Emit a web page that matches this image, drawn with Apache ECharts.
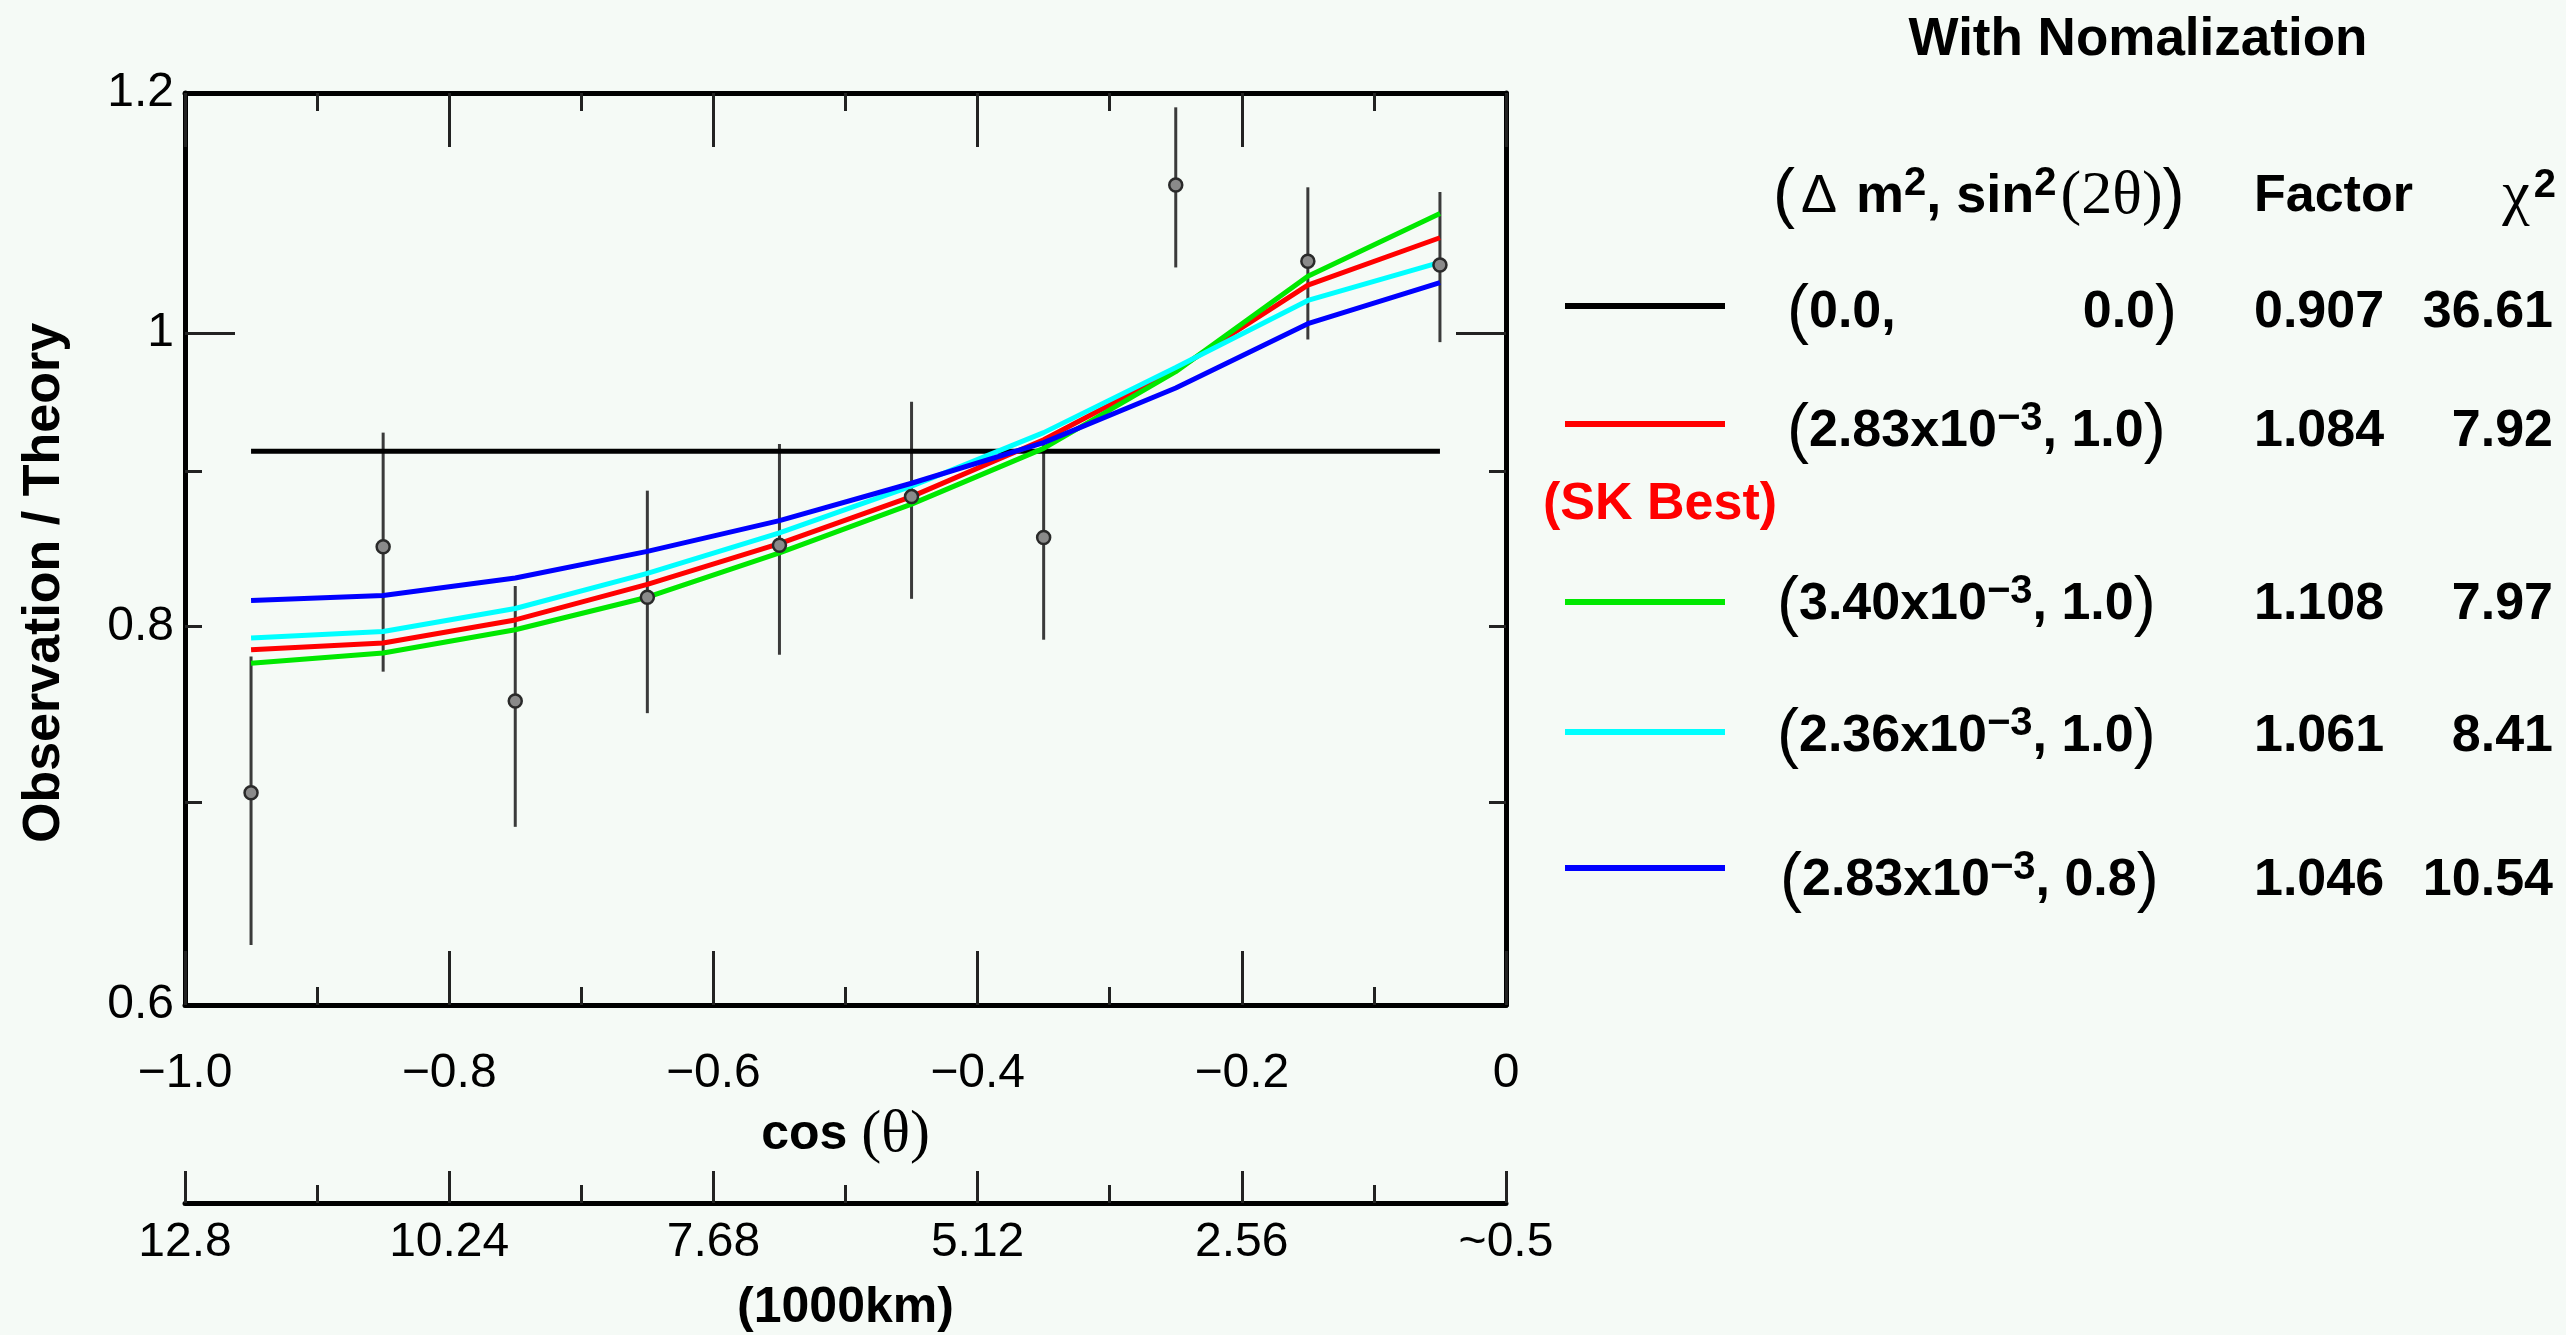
<!DOCTYPE html>
<html><head><meta charset="utf-8">
<script src="https://cdn.jsdelivr.net/npm/echarts@6/dist/echarts.min.js"></script>
<style>html,body{margin:0;padding:0;background:#f5faf6;} #c{width:2566px;height:1335px;}</style>
</head><body><div id="c"></div>
<script>
// ---------------- data ----------------
const cosTheta = [-0.95, -0.85, -0.75, -0.65, -0.55, -0.45, -0.35, -0.25, -0.15, -0.05];
const observed = [0.705, 0.850, 0.756, 0.818, 0.851, 0.883, 0.856, 1.119, 1.056, 1.053];
const obsError = [0.077, 0.077, 0.069, 0.069, 0.068, 0.066, 0.064, 0.068, 0.061, 0.060];
const noOscillation = [0.914, 0.914, 0.914, 0.914, 0.914, 0.914, 0.914, 0.914, 0.914, 0.914];
const skBest283 = [0.786, 0.790, 0.804, 0.826, 0.852, 0.883, 0.922, 0.972, 1.037, 1.075];
const dm340 = [0.778, 0.784, 0.798, 0.818, 0.846, 0.878, 0.916, 0.971, 1.044, 1.095];
const dm236 = [0.793, 0.797, 0.811, 0.833, 0.859, 0.890, 0.927, 0.974, 1.025, 1.055];
const sin08 = [0.816, 0.819, 0.830, 0.847, 0.867, 0.892, 0.920, 0.959, 1.007, 1.039];

const cosTickLabels = ['\u22121.0', '\u22120.8', '\u22120.6', '\u22120.4', '\u22120.2', '0'];
const distTickLabels = ['12.8', '10.24', '7.68', '5.12', '2.56', '~0.5'];
const yLabelValues = [0.6, 0.8, 1, 1.2];
const yMajorTicks = [1];
const yMinorTicks = [0.7, 0.8, 0.9];

const legendParams = [
  null,
  '{p|(}{b|2.83x10}{s|\u22123}{b|, 1.0}{p|)}',
  '{p|(}{b|3.40x10}{s|\u22123}{b|, 1.0}{p|)}',
  '{p|(}{b|2.36x10}{s|\u22123}{b|, 1.0}{p|)}',
  '{p|(}{b|2.83x10}{s|\u22123}{b|, 0.8}{p|)}'
];
const legendFactors = ['0.907', '1.084', '1.108', '1.061', '1.046'];
const legendChi2 = ['36.61', '7.92', '7.97', '8.41', '10.54'];
const seriesColors = ['#000000', '#ff0000', '#00e800', '#00ffff', '#0000ff'];

// ---------------- layout ----------------
const FONT = 'Liberation Sans';
const SERIF = 'Liberation Serif';
const grid = {left: 185, top: 93, width: 1321, height: 912};
const legendLineY = [306, 424, 602, 732, 868];
const legendTextY = [313, 432, 605, 737, 881];
const legendParamX = [1787, 1787, 1777, 1777, 1780];

const RICH = {
  p: {fontFamily: FONT, fontSize: 66, fontWeight: 'normal', fill: '#000'},
  b: {fontFamily: FONT, fontSize: 52, fontWeight: 'bold', fill: '#000'},
  s: {fontFamily: FONT, fontSize: 40, fontWeight: 'bold', fill: '#000', verticalAlign: 'top'},
  g: {fontFamily: FONT, fontSize: 54, fontWeight: 'normal', fill: '#000', padding: [0, 4, 0, 6]},
  h: {fontFamily: FONT, fontSize: 54, fontWeight: 'bold', fill: '#000'},
  t: {fontFamily: SERIF, fontSize: 62, fontWeight: 'normal', fill: '#000', padding: [0, 0, 0, 4]},
  c: {fontFamily: SERIF, fontSize: 62, fontWeight: 'normal', fill: '#000', padding: [0, 4, 0, 0]}
};

function txt(x, y, text, align, extra) {
  return {
    type: 'text', x: x, y: y, silent: true,
    style: Object.assign({
      text: text, align: align, verticalAlign: 'middle',
      textAlign: align, textVerticalAlign: 'middle',
      fill: '#000', fontFamily: FONT, fontSize: 52, fontWeight: 'bold',
      rich: RICH
    }, extra || {})
  };
}

const graphics = [];
graphics.push(txt(2138, 40, 'With Nomalization', 'center', {fontSize: 53}));
graphics.push(txt(1773, 197, '{p|(}{g|\u0394}{h| m}{s|2}{h|, sin}{s|2}{t|(2\u03b8)}{p|)}', 'left'));
graphics.push(txt(2254, 197, 'Factor', 'left', {fontSize: 52}));
graphics.push(txt(2556, 197, '{c|\u03c7}{s|2}', 'right'));
legendFactors.forEach(function (f, i) {
  graphics.push({
    type: 'line', silent: true,
    shape: {x1: 1565, y1: legendLineY[i], x2: 1725, y2: legendLineY[i]},
    style: {stroke: seriesColors[i], lineWidth: 6}
  });
  if (legendParams[i]) {
    graphics.push(txt(legendParamX[i], legendTextY[i], legendParams[i], 'left'));
  } else {
    graphics.push(txt(legendParamX[i], legendTextY[i], '{p|(}{b|0.0,}', 'left'));
    graphics.push(txt(2177, legendTextY[i], '{b|0.0}{p|)}', 'right'));
  }
  graphics.push(txt(2254, legendTextY[i], f, 'left', {fontSize: 52}));
  graphics.push(txt(2553, legendTextY[i], legendChi2[i], 'right', {fontSize: 52}));
});
graphics.push(txt(1660, 505, '(SK Best)', 'center', {fill: '#ff0000'}));

// ---------------- axes ----------------
const tickStyle = {color: '#222', width: 3};
function xAxisBase(extra) {
  return Object.assign({
    type: 'value', min: -1, max: 0, interval: 0.2,
    splitLine: {show: false},
    axisLine: {show: true, onZero: false, lineStyle: {color: '#000', width: 5}},
    axisTick: {show: true, inside: true, length: 54, lineStyle: tickStyle},
    minorTick: {show: true, splitNumber: 2, length: 18, lineStyle: tickStyle},
    minorSplitLine: {show: false},
    axisLabel: {show: false}
  }, extra);
}
const yClamp = function (v) { return Math.min(Math.max(v, 0.6000001), 1.1999999); };
function yAxisBase(extra) {
  return Object.assign({
    type: 'log', logBase: 10, min: 0.6, max: 1.2,
    splitLine: {show: false},
    minorTick: {show: false},
    minorSplitLine: {show: false},
    axisLabel: {show: false}
  }, extra);
}

const option = {
  backgroundColor: '#f5faf6',
  animation: false,
  textStyle: {fontFamily: FONT},
  grid: Object.assign({containLabel: false, outerBoundsMode: 'none'}, grid),
  graphic: {elements: graphics},
  xAxis: [
    xAxisBase({
      position: 'bottom',
      axisLabel: {
        show: true, margin: 45, fontSize: 48, color: '#000', fontFamily: FONT,
        formatter: function (v) { return cosTickLabels[Math.round((v + 1) / 0.2)]; }
      },
      name: '{b|cos }{t|(\u03b8)}',
      nameLocation: 'middle', nameGap: 100, nameMoveOverlap: false,
      nameTextStyle: {
        rich: {
          b: {fontFamily: FONT, fontSize: 50, fontWeight: 'bold', color: '#000'},
          t: {fontFamily: SERIF, fontSize: 60, color: '#000'}
        }
      }
    }),
    xAxisBase({position: 'top'}),
    xAxisBase({
      position: 'bottom', offset: 198,
      axisTick: {show: true, inside: true, length: 32, lineStyle: tickStyle},
      axisLabel: {
        show: true, margin: 16, fontSize: 48, color: '#000', fontFamily: FONT,
        formatter: function (v) { return distTickLabels[Math.round((v + 1) / 0.2)]; }
      },
      name: '(1000km)',
      nameLocation: 'middle', nameGap: 80, nameMoveOverlap: false,
      nameTextStyle: {fontFamily: FONT, fontSize: 50, fontWeight: 'bold', color: '#000'}
    })
  ],
  yAxis: [
    yAxisBase({
      position: 'left',
      axisLine: {show: true, onZero: false, lineStyle: {color: '#000', width: 5}},
      axisTick: {show: true, inside: true, length: 50, lineStyle: tickStyle, customValues: yMajorTicks},
      axisLabel: {
        show: true, margin: 11, fontSize: 48, color: '#000', fontFamily: FONT,
        customValues: yLabelValues.map(yClamp),
        formatter: function (v) { const r = Math.round(v * 10) / 10; return r === 1 ? '1' : r.toFixed(1); }
      },
      name: 'Observation / Theory',
      nameLocation: 'middle', nameGap: 114, nameMoveOverlap: false,
      nameTextStyle: {fontFamily: FONT, fontSize: 52, fontWeight: 'bold', color: '#000', padding: [0, 68, 0, 0]}
    }),
    yAxisBase({
      position: 'left',
      axisLine: {show: false, onZero: false},
      axisTick: {show: true, inside: true, length: 17, lineStyle: tickStyle, customValues: yMinorTicks}
    }),
    yAxisBase({
      position: 'right',
      axisLine: {show: true, onZero: false, lineStyle: {color: '#000', width: 5}},
      axisTick: {show: true, inside: true, length: 50, lineStyle: tickStyle, customValues: yMajorTicks}
    }),
    yAxisBase({
      position: 'right',
      axisLine: {show: false, onZero: false},
      axisTick: {show: true, inside: true, length: 17, lineStyle: tickStyle, customValues: yMinorTicks}
    })
  ],
  series: [
    {
      name: 'error', type: 'custom', z: 2,
      data: cosTheta.map(function (x, i) { return [x, observed[i], obsError[i]]; }),
      encode: {x: 0, y: 1},
      renderItem: function (params, api) {
        const x = api.value(0), v = api.value(1), e = api.value(2);
        const p1 = api.coord([x, v + e]), p2 = api.coord([x, v - e]);
        return {type: 'line', shape: {x1: p1[0], y1: p1[1], x2: p2[0], y2: p2[1]},
                style: {stroke: '#3a3a3a', lineWidth: 3}};
      }
    }
  ]
};

const lineSeries = [noOscillation, skBest283, dm340, dm236, sin08];
const lineNames = ['(0.0, 0.0)', '(2.83e-3, 1.0)', '(3.40e-3, 1.0)', '(2.36e-3, 1.0)', '(2.83e-3, 0.8)'];
lineSeries.forEach(function (vals, k) {
  option.series.push({
    name: lineNames[k], type: 'line', z: 3, symbol: 'none', showSymbol: false,
    lineStyle: {color: seriesColors[k], width: 5},
    itemStyle: {color: seriesColors[k]},
    data: cosTheta.map(function (x, i) { return [x, vals[i]]; })
  });
});
option.series.push({
  name: 'data', type: 'scatter', z: 5, symbol: 'circle', symbolSize: 13,
  itemStyle: {color: '#8a8a8a', borderColor: '#2a2a2a', borderWidth: 2.5, opacity: 1},
  data: cosTheta.map(function (x, i) { return [x, observed[i]]; })
});

const chart = echarts.init(document.getElementById('c'));
chart.setOption(option);
</script>
</body></html>
